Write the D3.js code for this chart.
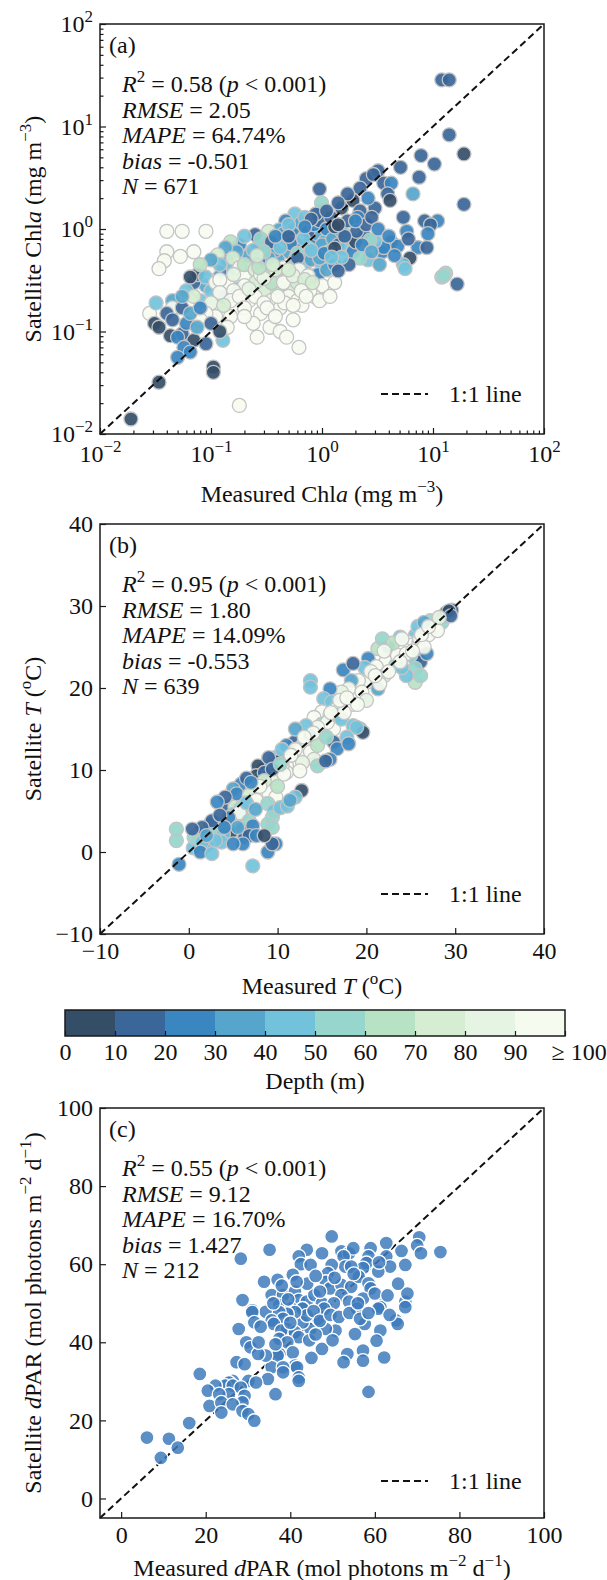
<!DOCTYPE html>
<html>
<head>
<meta charset="utf-8">
<script src="https://cdn.jsdelivr.net/npm/d3@7"></script>
<style>
  body { margin: 0; background: #fff; }
  svg { display: block; }
  text { font-family: "Liberation Serif", "Times New Roman", serif; fill: #111; }
</style>
</head>
<body>
<svg id="chart" width="607" height="1580"></svg>
<script>
// ---- data ----
// (a) chlorophyll: [measured, satellite, depth]
const chlData = [
  [12.0, 28.5, 14], [14.0, 28.5, 12], [14.0, 8.3, 16], [19.0, 5.4, 4], [7.8, 5.2, 15], [10.3, 4.3, 16],
  [7.5, 3.2, 14], [5.1, 4.0, 15], [3.2, 3.7, 13], [2.5, 3.1, 15], [2.9, 3.4, 12], [3.6, 2.8, 18],
  [4.2, 2.8, 22], [2.2, 2.5, 12], [6.6, 2.2, 38], [0.95, 2.45, 15], [3.9, 2.2, 16], [4.1, 1.9, 8],
  [1.9, 1.9, 6], [1.5, 1.6, 4], [2.2, 1.5, 12], [19.0, 1.74, 15], [3.0, 1.6, 12], [1.7, 2.2, 15],
  [2.6, 2.0, 22],
  [0.99, 1.5, 45], [0.99, 1.8, 55], [0.57, 1.4, 40], [0.47, 1.2, 25], [0.41, 0.98, 35], [0.25, 0.88, 15],
  [0.33, 0.95, 70], [0.26, 0.65, 20], [0.35, 0.57, 25], [0.62, 0.98, 60], [0.48, 0.8, 22], [0.78, 0.77, 25],
  [0.72, 0.57, 28], [1.22, 0.95, 45], [0.9, 0.9, 32], [1.05, 0.75, 38], [0.6, 0.7, 20], [0.5, 0.6, 35],
  [0.4, 0.5, 30], [0.3, 0.45, 40], [0.55, 0.45, 45], [0.45, 0.38, 50], [0.7, 0.45, 40], [0.8, 0.5, 38],
  [0.9, 0.6, 42], [1.0, 0.7, 30], [0.85, 0.35, 55], [1.0, 0.45, 48], [0.65, 0.35, 60], [0.3, 0.7, 45],
  [0.22, 0.55, 35], [0.92, 0.36, 22], [1.1, 0.4, 35], [1.3, 0.45, 25], [0.75, 0.65, 42], [0.58, 0.52, 38],
  [0.38, 0.62, 33], [0.18, 0.7, 28], [0.2, 0.85, 42], [0.15, 0.75, 65], [0.28, 0.8, 52],
  [0.35, 0.75, 18], [0.45, 0.9, 30], [0.55, 1.0, 22], [0.65, 1.15, 35], [0.75, 0.95, 15], [0.85, 1.1, 28],
  [0.95, 1.2, 12], [1.1, 1.0, 20], [1.25, 0.8, 30], [1.4, 0.7, 18], [1.6, 0.65, 40], [1.9, 0.6, 25],
  [2.4, 0.85, 15], [2.6, 0.5, 45], [3.5, 0.6, 20], [4.2, 0.75, 14], [1.15, 0.6, 42], [0.95, 0.52, 35],
  [0.68, 0.8, 45], [0.52, 0.72, 28], [0.42, 0.66, 48], [0.33, 0.52, 38], [0.27, 0.5, 25], [0.6, 0.58, 52],
  [0.8, 0.62, 48], [1.05, 0.58, 25], [1.5, 0.95, 32], [1.8, 0.8, 45], [2.1, 1.3, 20], [0.88, 1.4, 18],
  [0.7, 1.3, 42], [0.5, 1.1, 45], [0.38, 0.85, 25], [0.3, 0.6, 55], [0.24, 0.62, 45], [0.17, 0.6, 32],
  [0.14, 0.5, 25], [0.16, 0.42, 42], [0.12, 0.38, 22], [0.09, 0.28, 30], [0.07, 0.3, 18], [0.06, 0.25, 45],
  [0.045, 0.2, 30], [0.08, 0.2, 40], [0.1, 0.25, 48], [0.13, 0.22, 38], [0.17, 0.26, 45], [0.6, 0.52, 15],
  [1.3, 0.65, 8], [2.0, 0.75, 5], [0.5, 0.85, 12],
  [0.135, 0.66, 30], [0.157, 0.52, 72], [0.115, 0.56, 75], [0.097, 0.42, 92], [0.076, 0.36, 4],
  [0.065, 0.34, 4], [0.089, 0.34, 40], [0.12, 0.45, 45], [0.1, 0.5, 35], [0.08, 0.45, 65],
  [0.04, 0.95, 100], [0.055, 0.95, 100], [0.09, 0.95, 100], [0.04, 0.6, 100], [0.053, 0.54, 100],
  [0.038, 0.49, 100], [0.034, 0.41, 100], [0.07, 0.6, 100],
  [0.18, 0.42, 100], [0.2, 0.34, 100], [0.11, 0.3, 100], [0.14, 0.3, 92], [0.2, 0.45, 68], [0.25, 0.4, 72],
  [0.35, 0.35, 82], [0.4, 0.3, 86], [0.5, 0.32, 75], [0.3, 0.25, 70], [0.4, 0.27, 65], [0.55, 0.25, 78],
  [0.7, 0.28, 82], [0.9, 0.25, 88], [0.35, 0.3, 62], [0.5, 0.22, 92], [0.25, 0.3, 76], [0.6, 0.3, 72],
  [0.16, 0.36, 85], [0.28, 0.36, 95], [0.45, 0.42, 100], [0.62, 0.4, 90], [0.75, 0.35, 100],
  [1.0, 0.28, 95], [0.85, 0.22, 100],
  [0.22, 0.2, 100], [0.28, 0.15, 100], [0.35, 0.2, 95], [0.42, 0.17, 100], [0.6, 0.2, 100], [0.78, 0.25, 95],
  [0.95, 0.2, 100], [0.3, 0.33, 88], [0.45, 0.3, 100], [0.55, 0.35, 85], [0.7, 0.32, 78], [0.38, 0.4, 75],
  [0.27, 0.42, 66], [0.2, 0.28, 100], [0.16, 0.25, 90], [0.24, 0.12, 100], [0.34, 0.11, 100],
  [0.42, 0.1, 100], [0.17, 0.17, 100], [0.13, 0.15, 95], [0.82, 0.3, 72], [0.65, 0.25, 100], [0.5, 0.4, 70],
  [0.36, 0.45, 72], [0.12, 0.32, 100], [0.065, 0.2, 100], [0.045, 0.17, 100], [0.26, 0.55, 78],
  [1.3, 0.3, 100], [0.55, 0.13, 100],
  [0.12, 0.24, 100], [0.15, 0.2, 100], [0.18, 0.22, 95], [0.2, 0.17, 100], [0.25, 0.22, 90], [0.3, 0.19, 100],
  [0.32, 0.17, 100], [0.46, 0.19, 100], [0.66, 0.18, 100], [0.72, 0.22, 100], [1.18, 0.22, 100],
  [0.11, 0.14, 100], [0.15, 0.14, 100], [0.2, 0.14, 100], [0.26, 0.088, 100], [0.48, 0.088, 100],
  [0.62, 0.07, 100], [0.1, 0.19, 85], [0.07, 0.22, 75], [0.09, 0.15, 100], [0.08, 0.13, 95],
  [0.028, 0.15, 100], [0.18, 0.019, 100], [0.4, 0.22, 100], [0.55, 0.18, 100], [0.38, 0.14, 100],
  [0.14, 0.11, 100], [0.22, 0.26, 80], [0.13, 0.18, 70],
  [0.032, 0.19, 40], [0.04, 0.15, 15], [0.031, 0.12, 4], [0.034, 0.11, 4], [0.043, 0.091, 4],
  [0.055, 0.095, 15], [0.05, 0.088, 22], [0.07, 0.082, 4], [0.09, 0.076, 18], [0.057, 0.07, 25],
  [0.065, 0.063, 28], [0.05, 0.056, 20], [0.105, 0.045, 4], [0.105, 0.04, 4], [0.034, 0.032, 5],
  [0.019, 0.014, 4], [0.128, 0.082, 45], [0.055, 0.17, 18], [0.055, 0.22, 32], [0.045, 0.13, 12],
  [0.06, 0.12, 25], [0.075, 0.11, 35], [0.065, 0.15, 38], [0.08, 0.17, 28], [0.1, 0.12, 15], [0.12, 0.1, 5],
  [5.4, 1.3, 16], [8.4, 1.2, 18], [11.0, 1.2, 22], [9.5, 1.1, 15], [7.3, 0.66, 22], [8.8, 0.66, 18],
  [5.8, 0.95, 22], [6.2, 0.52, 4], [5.4, 0.45, 42], [5.6, 0.41, 45], [12.0, 0.34, 55], [13.0, 0.37, 55],
  [12.5, 0.35, 58], [16.5, 0.29, 16], [4.8, 0.68, 25], [3.6, 0.66, 28], [3.0, 0.76, 45], [2.7, 0.78, 52],
  [2.05, 0.95, 15], [2.2, 0.52, 52], [1.75, 0.45, 18], [1.5, 0.53, 45], [1.4, 0.39, 15], [1.22, 0.53, 42],
  [1.2, 1.3, 12], [1.3, 1.05, 8], [1.7, 1.2, 15], [2.5, 1.1, 18], [2.8, 1.3, 12], [3.2, 1.0, 22],
  [4.0, 0.85, 25], [1.6, 0.85, 15], [2.3, 0.7, 22], [2.8, 0.6, 32], [4.5, 0.55, 28], [3.3, 0.45, 35],
  [6.0, 0.8, 18], [9.0, 0.9, 25], [2.0, 1.2, 28], [1.1, 1.5, 18], [1.4, 1.8, 12], [0.8, 1.25, 15],
  [0.7, 1.05, 25], [1.4, 1.1, 4]
];

// (b) temperature: [measured, satellite, depth]
const tempData = [
  [28.7, 28.7, 4], [29.6, 29.5, 15], [29.0, 29.2, 8], [29.3, 29.4, 5], [28.5, 28.0, 55], [27.6, 27.5, 100],
  [26.8, 26.9, 100], [25.5, 26.4, 42], [24.6, 25.6, 92], [25.0, 25.2, 100], [24.1, 24.8, 100],
  [25.9, 25.4, 100], [25.5, 23.6, 14], [26.1, 23.2, 18], [25.0, 24.0, 55], [25.5, 22.4, 58],
  [25.5, 20.7, 68], [26.1, 21.5, 56], [21.3, 24.8, 62], [20.2, 23.6, 22], [22.8, 23.8, 100],
  [22.2, 23.2, 100], [23.3, 22.8, 58], [21.1, 22.6, 100], [22.0, 21.5, 72], [20.7, 21.1, 100],
  [20.0, 20.7, 100], [19.1, 20.9, 95], [21.3, 19.9, 32], [17.4, 22.2, 25], [18.3, 20.9, 38],
  [18.0, 19.9, 100], [17.2, 19.5, 85], [15.9, 19.9, 28], [13.7, 20.9, 42], [13.7, 20.1, 45],
  [15.2, 18.7, 45], [16.1, 18.3, 42], [15.0, 17.1, 100], [15.9, 16.7, 100], [16.7, 17.5, 100],
  [14.1, 16.4, 95], [15.0, 15.6, 58], [16.3, 15.0, 100], [15.6, 15.8, 100], [14.5, 15.2, 100],
  [13.2, 15.4, 42], [13.7, 14.2, 22], [16.7, 16.7, 55], [17.2, 16.2, 45], [18.5, 15.4, 42],
  [19.3, 15.0, 48], [19.6, 14.6, 5], [18.9, 15.2, 45], [11.9, 13.4, 18], [11.0, 13.0, 22],
  [12.8, 13.0, 100], [12.4, 12.2, 100], [13.7, 12.2, 100], [16.3, 13.4, 14], [16.7, 12.6, 25],
  [15.9, 11.3, 22], [14.1, 11.3, 80], [14.5, 10.5, 55], [15.4, 11.1, 12], [12.8, 10.9, 85],
  [9.7, 11.5, 42], [10.2, 11.1, 6], [9.3, 10.5, 25], [11.0, 10.5, 100], [11.0, 9.7, 100],
  [8.4, 10.1, 4], [7.8, 10.5, 8], [7.6, 9.3, 5],
  [14.5, 13.0, 62], [15.5, 14.0, 58], [17.8, 14.0, 42], [18.0, 13.2, 28], [12.0, 15.0, 35],
  [10.5, 12.5, 40], [9.0, 11.5, 15], [8.2, 8.0, 40], [4.5, 5.5, 12], [3.5, 2.0, 18], [4.8, 2.5, 8],
  [6.0, 2.8, 14], [2.0, 0.8, 35], [0.5, 0.5, 45], [22.5, 25.0, 28], [23.8, 26.2, 40], [21.8, 26.0, 55],
  [19.8, 22.5, 45], [18.5, 23.0, 18], [26.8, 24.2, 25], [24.5, 21.5, 48], [29.5, 28.8, 12],
  [23.5, 24.0, 100], [24.5, 24.2, 95], [26.0, 26.0, 100], [27.0, 26.5, 90], [23.0, 25.5, 62],
  [22.0, 24.5, 100], [20.5, 22.0, 92], [19.5, 19.5, 100], [18.5, 18.0, 100], [17.5, 17.0, 95],
  [17.0, 18.5, 100], [20.0, 18.5, 80], [21.5, 20.5, 100], [24.0, 22.5, 45], [26.5, 25.0, 100],
  [28.0, 27.0, 100], [27.2, 28.2, 58], [25.8, 27.5, 40], [26.5, 28.0, 36], [24.0, 26.0, 90],
  [14.0, 14.5, 100], [13.0, 14.0, 95], [12.0, 12.5, 100], [11.5, 11.8, 100], [10.5, 10.5, 100],
  [9.5, 9.0, 85], [8.7, 7.5, 100], [7.5, 7.0, 92], [6.2, 5.8, 100], [5.2, 5.5, 75], [16.0, 17.0, 100],
  [17.8, 18.8, 92], [19.0, 18.0, 100], [21.0, 21.5, 95], [22.5, 22.0, 100], [23.8, 23.2, 100],
  [25.2, 24.5, 95], [26.2, 26.5, 100], [27.0, 27.5, 100], [28.2, 28.6, 85],
  [12.5, 9.9, 100], [10.7, 9.5, 100], [8.5, 9.7, 16], [9.4, 10.1, 12], [10.3, 10.7, 58], [8.5, 8.7, 75],
  [5.9, 8.3, 25], [5.0, 7.7, 32], [5.4, 7.1, 22], [7.2, 7.9, 100], [6.8, 6.9, 72], [7.6, 6.3, 100],
  [9.8, 6.7, 100], [8.9, 5.9, 55], [9.6, 5.0, 45], [9.4, 4.2, 58], [10.3, 5.4, 42], [11.1, 5.6, 45],
  [12.7, 7.5, 4], [12.0, 6.7, 42], [11.4, 6.3, 38], [5.9, 5.4, 55], [5.0, 4.6, 45], [5.9, 4.6, 48],
  [5.7, 4.8, 92], [4.1, 6.7, 18], [3.2, 6.1, 25], [4.6, 3.8, 72], [3.7, 3.4, 45], [6.8, 3.8, 52],
  [7.2, 3.2, 22], [2.4, 3.4, 22], [3.2, 2.6, 55], [1.1, 2.2, 65], [0.6, 1.8, 55], [2.6, 3.8, 14],
  [1.5, 3.0, 16], [3.9, 2.2, 45], [3.7, 1.2, 42], [3.0, 1.4, 45], [6.3, 1.8, 15], [6.8, 2.0, 12],
  [6.1, 1.0, 22], [7.6, 2.0, 24], [5.0, 1.0, 25], [1.5, 1.2, 42], [1.3, 0.0, 22], [2.6, -0.2, 44],
  [0.4, 2.8, 16], [-1.4, 2.8, 55], [-1.4, 1.4, 55], [-1.1, -1.5, 25], [8.9, 0.0, 22], [9.8, 1.0, 28],
  [7.2, -1.7, 45], [9.4, 1.0, 18], [8.9, 3.4, 55], [9.4, 3.0, 52], [8.5, 2.0, 8], [4.5, 4.2, 25],
  [2.0, 2.0, 38], [3.5, 4.5, 18], [6.5, 6.0, 40], [7.5, 5.2, 38], [8.0, 8.0, 100], [10.0, 8.0, 62],
  [5.5, 3.0, 35], [4.0, 3.0, 28], [6.5, 9.0, 18], [7.0, 8.5, 22]
];

// (c) dPAR: [measured, satellite]
const parData = [
  [49.8, 67.1], [70.5, 66.9], [70.0, 64.8], [70.9, 62.8], [75.5, 63.1], [62.7, 65.4], [66.3, 63.4],
  [67.2, 59.8], [62.7, 62.0], [59.0, 64.1], [58.5, 62.0], [63.6, 59.4], [60.8, 58.1], [58.0, 60.3],
  [57.2, 59.0], [52.1, 63.3], [53.9, 62.8], [54.9, 64.1], [52.6, 62.0], [53.0, 59.4], [54.4, 59.4],
  [49.8, 59.8], [48.9, 57.7], [47.5, 62.8], [43.9, 63.7], [42.0, 62.0], [42.5, 60.0], [44.8, 59.8],
  [40.6, 57.3], [48.4, 55.5], [49.4, 53.8], [52.1, 54.7], [54.4, 54.2], [52.1, 52.1], [56.2, 56.8],
  [58.5, 55.1], [59.0, 53.8], [57.2, 51.2], [61.3, 49.5], [67.2, 50.4], [67.7, 52.5], [28.3, 61.4],
  [35.1, 63.7], [33.8, 55.5], [37.0, 56.0], [28.7, 50.8], [31.0, 48.2], [35.6, 52.1], [38.3, 52.1],
  [37.4, 49.5], [41.1, 53.0], [42.0, 50.8], [43.9, 50.4], [45.7, 52.1], [47.5, 50.0], [50.3, 50.0],
  [53.9, 50.4], [40.2, 48.7], [42.9, 48.7], [34.2, 47.8],
  [67.2, 49.0], [61.3, 49.0], [60.8, 48.6], [55.8, 48.6], [57.6, 44.7], [65.0, 45.6], [65.4, 44.7],
  [61.3, 43.0], [60.4, 40.4], [55.3, 42.1], [57.2, 37.9], [57.2, 35.3], [62.2, 36.1], [53.5, 37.0],
  [52.6, 34.9], [58.5, 27.3], [47.5, 38.3], [50.7, 43.0], [48.4, 43.4], [44.8, 43.4], [42.9, 45.1],
  [46.6, 46.0], [48.0, 48.6], [42.9, 48.6], [43.9, 46.9], [41.1, 47.7], [39.3, 47.3], [37.4, 47.7],
  [38.3, 46.0], [35.6, 45.6], [36.1, 44.7], [39.3, 43.4], [37.9, 43.0], [41.1, 42.6], [42.0, 41.3],
  [37.4, 40.9], [39.3, 40.0], [40.6, 37.4], [41.1, 34.0], [41.6, 33.6], [42.0, 31.0], [42.0, 30.1],
  [37.4, 37.0], [37.0, 36.6], [35.6, 33.6], [38.3, 33.6], [38.3, 32.3], [34.7, 30.6], [36.5, 26.7],
  [34.2, 36.6], [31.0, 47.7], [31.5, 45.1], [27.8, 43.4], [29.6, 40.0], [30.6, 38.7], [32.4, 37.0],
  [27.3, 34.9], [29.2, 34.4], [30.1, 30.1], [31.9, 29.7], [26.4, 30.1], [25.5, 29.7], [24.6, 28.9],
  [22.3, 28.9], [20.5, 27.6], [26.4, 28.9], [28.3, 28.4], [25.5, 26.7], [23.2, 26.7], [29.2, 26.3],
  [28.7, 24.6], [20.9, 23.7], [23.7, 24.6], [23.7, 22.0], [26.4, 24.1], [28.7, 22.4], [30.1, 21.6],
  [31.5, 19.9], [18.6, 31.9], [16.1, 19.3], [6.1, 15.6], [11.3, 15.3], [13.4, 13.0], [9.4, 10.4],
  [44.0, 55.0], [46.0, 57.0], [50.5, 56.5], [45.5, 48.0], [47.0, 45.5], [49.5, 47.0], [51.5, 46.5],
  [54.0, 47.5], [56.5, 46.0], [44.5, 40.5], [46.0, 42.0], [39.5, 51.0], [36.0, 50.0], [33.0, 44.0],
  [32.5, 40.0], [36.5, 39.5], [58.5, 47.5], [63.5, 47.0], [40.0, 45.0], [45.0, 36.0], [50.0, 40.5],
  [55.0, 57.5], [61.0, 60.5], [65.5, 55.0], [38.0, 54.5], [41.5, 55.5], [47.0, 53.0], [56.0, 50.0],
  [60.0, 52.5], [63.0, 52.0]
];

const chlStats = ["0.58", "2.05", "64.74%", "-0.501", "671"];
const tempStats = ["0.95", "1.80", "14.09%", "-0.553", "639"];
const parStats = ["0.55", "9.12", "16.70%", "1.427", "212"];

const depthBreaks = [10, 20, 30, 40, 50, 60, 70, 80, 90];
const depthColors = ["#344e68", "#3a6699", "#3a86c0", "#55a5cc", "#72c2dc",
                     "#96d6cc", "#b8e2c4", "#d5eed2", "#e6f4e3", "#f6fbf0"];
const depthTicks = [0, 10, 20, 30, 40, 50, 60, 70, 80, 90, 100];
const tempTicks = [-10, 0, 10, 20, 30, 40];
const parTicks = [0, 20, 40, 60, 80, 100];

// ---- layout ----
const svg = d3.select("#chart");
const L = 100, R = 544, H = 410;
const FS = 24;
const depthColor = d3.scaleThreshold().domain(depthBreaks).range(depthColors);

// text with italic / superscript pieces
function rich(text, parts) {
  let raised = false;
  parts.forEach(([s, k]) => {
    const t = text.append("tspan").text(s);
    if (k === "i") t.attr("font-style", "italic");
    if (k === "sup") { t.attr("font-size", 17).attr("dy", -10); raised = true; }
    else if (raised) { t.attr("dy", 10); raised = false; }
  });
  return text;
}

function styleAxis(g) {
  g.select(".domain").remove();
  g.selectAll(".tick line").attr("stroke", "#1a1a1a").attr("stroke-width", 1.2);
  g.selectAll(".tick text").attr("font-size", FS).attr("fill", "#111")
    .style("font-family", '"Liberation Serif", "Times New Roman", serif');
}

const isPow10 = d => Math.abs(Math.log10(d) - Math.round(Math.log10(d))) < 1e-9;
function powLabel(sel) {
  sel.each(function(d) {
    const e = Math.round(Math.log10(d));
    const t = d3.select(this).text("");
    t.append("tspan").text("10");
    t.append("tspan").attr("font-size", 17).attr("dy", -10).text(e < 0 ? "\u2212" + (-e) : e);
  });
}

function drawPanel(cfg) {
  const top = cfg.top, bottom = top + H;
  const x = cfg.x.range([L, R]);
  const y = cfg.y.range([bottom, top]);
  const g = svg.append("g");

  const [d0, d1] = x.domain();
  const oneToOne = () => g.append("line")
    .attr("x1", x(d0)).attr("y1", y(d0)).attr("x2", x(d1)).attr("y2", y(d1))
    .attr("stroke", "#111").attr("stroke-width", 2).attr("stroke-dasharray", "7,4");

  if (cfg.lineBehind) oneToOne();

  g.append("g").selectAll("circle")
    .data(cfg.data)
    .enter().append("circle")
    .attr("cx", d => x(d[0]))
    .attr("cy", d => y(d[1]))
    .attr("r", 7)
    .attr("fill", cfg.fill)
    .attr("fill-opacity", cfg.opacity)
    .attr("stroke", cfg.stroke)
    .attr("stroke-width", 1.3);

  if (!cfg.lineBehind) oneToOne();

  // axes
  if (cfg.log) {
    const gx = g.append("g").attr("transform", `translate(0,${bottom})`)
      .call(d3.axisBottom(x).tickValues(x.ticks()).tickSize(-6).tickPadding(11).tickFormat(""));
    const gy = g.append("g").attr("transform", `translate(${L},0)`)
      .call(d3.axisLeft(y).tickValues(y.ticks()).tickSize(-6).tickPadding(7).tickFormat(""));
    [gx, gy].forEach(a => {
      styleAxis(a);
      a.selectAll(".tick").filter(d => !isPow10(d)).select("line").attr(a === gx ? "y2" : "x2", a === gx ? -3.5 : 3.5);
      powLabel(a.selectAll(".tick").filter(isPow10).select("text"));
    });
  } else {
    const gx = g.append("g").attr("transform", `translate(0,${bottom})`)
      .call(d3.axisBottom(x).tickValues(cfg.ticks).tickSize(-6).tickPadding(8));
    const gy = g.append("g").attr("transform", `translate(${L},0)`)
      .call(d3.axisLeft(y).tickValues(cfg.ticks).tickSize(-6).tickPadding(7));
    styleAxis(gx); styleAxis(gy);
  }

  // frame
  g.append("rect").attr("x", L).attr("y", top).attr("width", R - L).attr("height", H)
    .attr("fill", "none").attr("stroke", "#1a1a1a").attr("stroke-width", 1.5);

  // panel letter + stats
  g.append("text").attr("x", 109).attr("y", top + 29).attr("font-size", FS).text(cfg.letter);
  const s = cfg.stats;
  const lines = [
    [["R", "i"], ["2", "sup"], [" = " + s[0] + " (", ""], ["p", "i"], [" < 0.001)", ""]],
    [["RMSE", "i"], [" = " + s[1], ""]],
    [["MAPE", "i"], [" = " + s[2], ""]],
    [["bias", "i"], [" = " + s[3], ""]],
    [["N", "i"], [" = " + s[4], ""]]
  ];
  lines.forEach((p, i) => {
    rich(g.append("text").attr("x", 122).attr("y", top + 68 + i * 25.5).attr("font-size", FS), p);
  });

  // legend
  const ly = bottom - cfg.legendGap;
  g.append("line").attr("x1", 381).attr("x2", 428).attr("y1", ly).attr("y2", ly)
    .attr("stroke", "#111").attr("stroke-width", 2).attr("stroke-dasharray", "7,4");
  g.append("text").attr("x", 449).attr("y", ly + 8).attr("font-size", FS).text("1:1 line");

  // axis labels
  rich(g.append("text").attr("x", (L + R) / 2).attr("y", bottom + cfg.xLabelGap)
    .attr("text-anchor", "middle").attr("font-size", FS), cfg.xLabel);
  rich(g.append("text")
    .attr("transform", `translate(41,${top + H / 2}) rotate(-90)`)
    .attr("text-anchor", "middle").attr("font-size", FS), cfg.yLabel);
}

drawPanel({
  top: 24, log: true, letter: "(a)", stats: chlStats, legendGap: 40,
  x: d3.scaleLog().domain([1e-2, 1e2]), y: d3.scaleLog().domain([1e-2, 1e2]),
  data: chlData, fill: d => depthColor(d[2]), opacity: 0.92, stroke: "#c4c4c4",
  xLabelGap: 68,
  xLabel: [["Measured Chl", ""], ["a", "i"], [" (mg m", ""], ["\u22123", "sup"], [")", ""]],
  yLabel: [["Satellite Chl", ""], ["a", "i"], [" (mg m", ""], ["\u22123", "sup"], [")", ""]]
});

drawPanel({
  top: 524, log: false, letter: "(b)", stats: tempStats, ticks: tempTicks, legendGap: 40,
  x: d3.scaleLinear().domain([-10, 40]), y: d3.scaleLinear().domain([-10, 40]),
  data: tempData, fill: d => depthColor(d[2]), opacity: 0.92, stroke: "#c4c4c4",
  xLabelGap: 60,
  xLabel: [["Measured ", ""], ["T", "i"], [" (", ""], ["o", "sup"], ["C)", ""]],
  yLabel: [["Satellite ", ""], ["T", "i"], [" (", ""], ["o", "sup"], ["C)", ""]]
});

drawPanel({
  top: 1108, log: false, letter: "(c)", stats: parStats, ticks: parTicks, lineBehind: true, legendGap: 37,
  x: d3.scaleLinear().domain([-5, 100]), y: d3.scaleLinear().domain([-5, 100]),
  data: parData, fill: "#3e7bbb", opacity: 0.85, stroke: "#ffffff",
  xLabelGap: 58,
  xLabel: [["Measured ", ""], ["d", "i"], ["PAR (mol photons m", ""], ["\u22122", "sup"], [" d", ""], ["\u22121", "sup"], [")", ""]],
  yLabel: [["Satellite ", ""], ["d", "i"], ["PAR (mol photons m", ""], ["\u22122", "sup"], [" d", ""], ["\u22121", "sup"], [")", ""]]
});

// ---- depth colour bar ----
const cbTop = 1010, cbH = 26;
const cbX = d3.scaleLinear().domain([0, 100]).range([65, 565]);
const cb = svg.append("g");
cb.selectAll("rect.bin")
  .data(depthColors)
  .enter().append("rect")
  .attr("class", "bin")
  .attr("x", (c, i) => cbX(i * 10))
  .attr("y", cbTop)
  .attr("width", (c, i) => cbX(i * 10 + 10) - cbX(i * 10))
  .attr("height", cbH)
  .attr("fill", c => c);
const cbAxis = cb.append("g").attr("transform", `translate(0,${cbTop + cbH})`)
  .call(d3.axisBottom(cbX).tickValues(depthTicks).tickSize(-5).tickPadding(7)
    .tickFormat(d => d === 100 ? "\u2265 100" : d));
styleAxis(cbAxis);
cbAxis.selectAll(".tick text").filter(d => d === 100).attr("text-anchor", "start").attr("dx", -14);
cb.append("rect").attr("x", cbX(0)).attr("y", cbTop).attr("width", cbX(100) - cbX(0)).attr("height", cbH)
  .attr("fill", "none").attr("stroke", "#1a1a1a").attr("stroke-width", 1.5);
cb.append("text").attr("x", (cbX(0) + cbX(100)) / 2).attr("y", 1089)
  .attr("text-anchor", "middle").attr("font-size", FS).text("Depth (m)");
</script>
</body>
</html>
